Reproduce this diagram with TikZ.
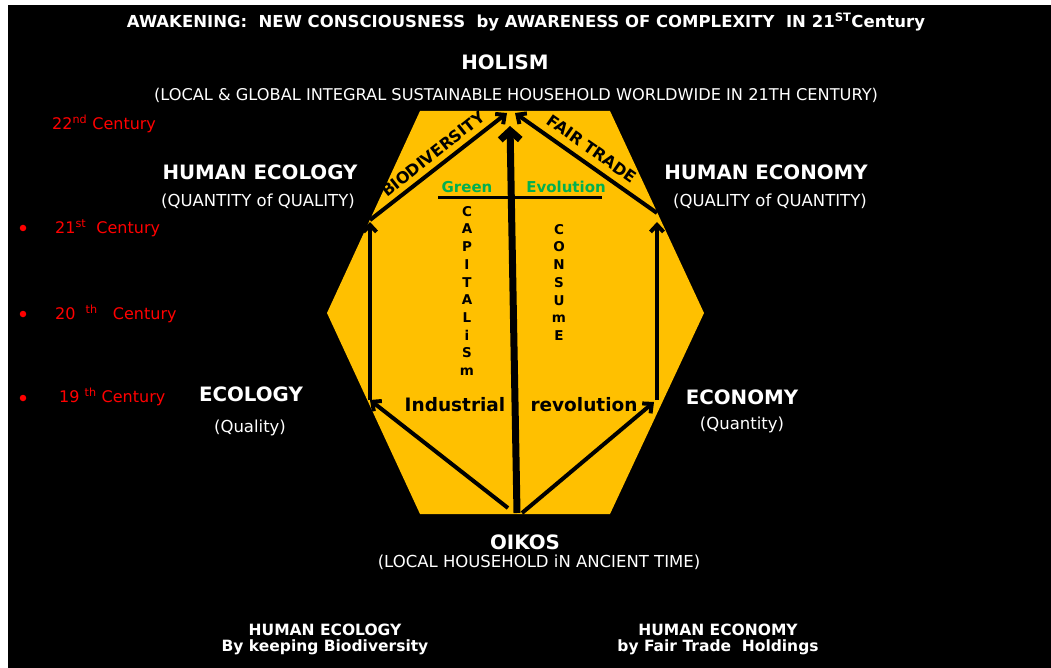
\documentclass[tikz,border=0pt]{standalone}
\usepackage{fontspec}
\setmainfont{DejaVu Sans}
\usetikzlibrary{arrows.meta}
\definecolor{hexyellow}{HTML}{FFC000}
\definecolor{evgreen}{HTML}{00B050}
\definecolor{cred}{HTML}{FF0000}
\tikzset{
  headbold/.style={text=white,font=\fontsize{19.8}{22}\selectfont\bfseries,inner sep=0pt},
  subreg/.style={text=white,font=\fontsize{16.5}{19}\selectfont,inner sep=0pt},
  botbold/.style={text=white,font=\fontsize{15.5}{17}\selectfont\bfseries,inner sep=0pt,align=center},
  redtext/.style={text=cred,font=\fontsize{16}{19}\selectfont,inner sep=0pt,anchor=west},
  bigarrow/.style={line width=4pt,-{Straight Barb[length=7pt,width=13pt]}},
  vletters/.style={text=black,font=\fontsize{13.5}{17.7}\selectfont\bfseries,align=center,inner sep=0pt,anchor=north},
  greenlbl/.style={text=evgreen,font=\fontsize{15}{18}\selectfont\bfseries,inner sep=0pt},
  blacklbl/.style={text=black,font=\fontsize{18.5}{22}\selectfont\bfseries,inner sep=0pt},
  slopelbl/.style={text=black,font=\fontsize{16}{18}\selectfont\bfseries,inner sep=0pt},
  bulletdot/.style={circle,fill=cred,inner sep=0pt,minimum size=6.5pt}
}
\begin{document}
\begin{tikzpicture}[x=1pt,y=-1pt]
\useasboundingbox (0,0) rectangle (1051,668);
\fill[white] (0,0) rectangle (1051,668);
\fill[black] (8,5) rectangle (1051,668);
% hexagon
\fill[hexyellow] (420,111) -- (610,111) -- (704,313) -- (610,514) -- (420,514) -- (327,313) -- cycle;
% key points
\coordinate (apexL) at (507,113);
\coordinate (apexR) at (515,113);
\coordinate (apexC) at (510,126);
\coordinate (hecoL) at (370,220);
\coordinate (hecoR) at (657,213);
\coordinate (ecolTop) at (370,222);
\coordinate (econTop) at (657,222);
\coordinate (ecol) at (370,400);
\coordinate (econ) at (657,400);
\coordinate (econTip) at (654,402);
\coordinate (oikL) at (508,508);
\coordinate (oikC) at (517,513);
\coordinate (oikR) at (522,513);
\coordinate (glineL) at (438,198);
\coordinate (glineR) at (602,198);
% green line
\draw[line width=3pt,black] (glineL) -- (glineR);
% arrows
\draw[line width=7pt,-{Straight Barb[length=9pt,width=20pt]}] (oikC) -- (apexC);
\draw[bigarrow] (ecol) -- (ecolTop);
\draw[bigarrow] (econ) -- (econTop);
\draw[bigarrow] (hecoL) -- (apexL);
\draw[bigarrow] (hecoR) -- (apexR);
\draw[bigarrow] (oikL) -- (ecol);
\draw[bigarrow] (oikR) -- (econTip);
% labels on diagonals
\node[slopelbl,rotate=38.5] (biod) at (433,154) {BIODIVERSITY};
\node[slopelbl,rotate=-35] (fair) at (592,149) {FAIR TRADE};
% inside hexagon
\node[greenlbl] (green) at (467,187) {Green};
\node[greenlbl] (evol) at (566,187) {Evolution};
\node[vletters] (capit) at (467,206) {C\\A\\P\\I\\T\\A\\L\\i\\S\\m};
\node[vletters] (consu) at (559,224) {C\\O\\N\\S\\U\\m\\E};
\node[blacklbl] (indus) at (455,405) {Industrial};
\node[blacklbl] (revol) at (584,405) {revolution};
% title
\node[text=white,inner sep=0pt,font=\fontsize{16.5}{19}\selectfont\bfseries] (title) at (526,22) {AWAKENING:\ \ NEW CONSCIOUSNESS\ \ by AWARENESS OF COMPLEXITY\ \ IN 21\textsuperscript{ST}Century};
% main labels
\node[headbold] (holism) at (505,62) {HOLISM};
\node[subreg,font=\fontsize{16.2}{18}\selectfont] (holsub) at (516,95) {(LOCAL \& GLOBAL INTEGRAL SUSTAINABLE HOUSEHOLD WORLDWIDE IN 21TH CENTURY)};
\node[headbold] (hecol) at (260,172) {HUMAN ECOLOGY};
\node[subreg] (hecolsub) at (258,201) {(QUANTITY of QUALITY)};
\node[headbold] (hecon) at (766,172) {HUMAN ECONOMY};
\node[subreg] (heconsub) at (770,201) {(QUALITY of QUANTITY)};
\node[headbold] (ecolog) at (251,394) {ECOLOGY};
\node[subreg] (ecolsub) at (250,428) {(Quality)};
\node[headbold] (econom) at (742,397) {ECONOMY};
\node[subreg] (econsub) at (742,425) {(Quantity)};
\node[headbold] (oikos) at (525,542) {OIKOS};
\node[subreg] (oiksub) at (539,562) {(LOCAL HOUSEHOLD iN ANCIENT TIME)};
% bottom
\node[botbold] (bleft) at (325,639) {HUMAN ECOLOGY\\[-1pt]By keeping Biodiversity};
\node[botbold] (bright) at (718,639) {HUMAN ECONOMY\\[-1pt]by Fair Trade\ \ Holdings};
% red centuries
\node[redtext] (c22) at (52,124) {22\textsuperscript{nd} Century};
\node[bulletdot] (b21) at (23,228) {};
\node[redtext] (c21) at (55,228) {21\textsuperscript{st}\ \ Century};
\node[bulletdot] (b20) at (23,314) {};
\node[redtext] (c20) at (55,314) {20\ \ \textsuperscript{th}\ \ \ Century};
\node[bulletdot] (b19) at (23,398) {};
\node[redtext] (c19) at (59,397) {19\ \textsuperscript{th} Century};
\end{tikzpicture}
\end{document}
